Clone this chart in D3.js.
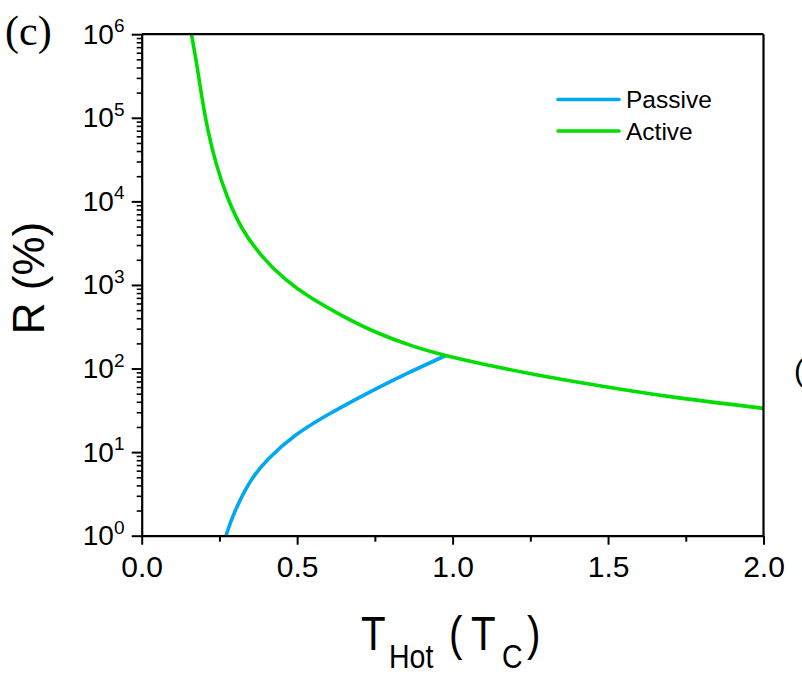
<!DOCTYPE html>
<html><head><meta charset="utf-8">
<script src="https://cdn.jsdelivr.net/npm/d3@7"></script>
<style>html,body{margin:0;padding:0;background:#fff;}svg{display:block;}</style>
</head><body>
<svg id="c" width="802" height="676"></svg>
<script>
// ---- data ----
const activeT = [0.160,0.177,0.193,0.212,0.238,0.273,0.322,0.386,0.461,0.536,0.648,0.756,0.874,0.981,1.088,1.25,1.474,1.689,2.0];
const activeR = [1e6,4.48e5,1.78e5,7.13e4,2.85e4,1.135e4,4540,2160,1145,722,417,264,182,141,115,86,62,46,33.4];
const passiveT = [0.271,0.295,0.348,0.402,0.488,0.595,0.724,0.853,0.978];
const passiveR = [1,1.85,4.64,8.13,15.85,27.8,50.5,87.7,143];
const xTicks = [0,0.5,1.0,1.5,2.0];
const xTickLabels = ["0.0","0.5","1.0","1.5","2.0"];
const xMinor = [0.25,0.75,1.25,1.75];
const yTicks = [1,10,100,1000,10000,100000,1000000];
const yTickExp = ["0","1","2","3","4","5","6"];
const seriesNames = ["Passive","Active"];
const seriesColors = ["#00A8F3","#00DD00"];

const svg = d3.select("#c");
const L = 141.7, R = 763.5, T = 34.2, B = 535.7;
const x = d3.scaleLinear().domain([0,2]).range([L,R]);
const y = d3.scaleLog().domain([1,1e6]).range([B,T]);
const FONT = "Liberation Sans, Arial, sans-serif";

svg.append("defs").append("clipPath").attr("id","clip")
  .append("rect").attr("x",L).attr("y",T-1).attr("width",R-L).attr("height",B-T+1);

// curves
const line = d3.line().x(d=>x(d[0])).y(d=>y(d[1])).curve(d3.curveBasis);
const passive = passiveT.map((t,i)=>[t,passiveR[i]]);
const active = activeT.map((t,i)=>[t,activeR[i]]);
const g = svg.append("g").attr("clip-path","url(#clip)");
g.append("path").datum(passive).attr("d",line).attr("fill","none")
  .attr("stroke",seriesColors[0]).attr("stroke-width",3.6).attr("stroke-linejoin","round");
g.append("path").datum(active).attr("d",line).attr("fill","none")
  .attr("stroke",seriesColors[1]).attr("stroke-width",3.6).attr("stroke-linejoin","round");

// frame (top + right)
svg.append("line").attr("x1",L).attr("x2",R).attr("y1",T).attr("y2",T).attr("stroke","#000").attr("stroke-width",2.2);
svg.append("line").attr("x1",R).attr("x2",R).attr("y1",T).attr("y2",B).attr("stroke","#000").attr("stroke-width",2.2);

// x axis
const xa = svg.append("g").attr("transform",`translate(0,${B})`)
  .call(d3.axisBottom(x).tickValues(xTicks).tickSize(9).tickSizeOuter(0)
    .tickFormat((d,i)=>xTickLabels[i]));
xa.select(".domain").attr("stroke-width",2.2);
xa.selectAll(".tick line").attr("stroke-width",2);
xa.selectAll(".tick text").attr("font-family",FONT)
  .attr("font-size",30).attr("fill","#000").attr("dy",0).attr("y",41.5);
const xm = svg.append("g").attr("transform",`translate(0,${B})`)
  .call(d3.axisBottom(x).tickValues(xMinor).tickSize(6).tickSizeOuter(0).tickFormat(""));
xm.select(".domain").remove();
xm.selectAll(".tick line").attr("stroke-width",2);

// y axis
const ya = svg.append("g").attr("transform",`translate(${L},0)`)
  .call(d3.axisLeft(y).tickValues(yTicks).tickSize(10).tickSizeOuter(0).tickFormat(""));
ya.select(".domain").attr("stroke-width",2.2);
ya.selectAll(".tick line").attr("stroke-width",2);
const yMinor = [];
for (let e=0;e<6;e++) for (let k=2;k<=9;k++) yMinor.push(k*Math.pow(10,e));
const ym = svg.append("g").attr("transform",`translate(${L},0)`)
  .call(d3.axisLeft(y).tickValues(yMinor).tickSize(5).tickSizeOuter(0).tickFormat(""));
ym.select(".domain").remove();
ym.selectAll(".tick line").attr("stroke-width",1.6);
// y tick labels with superscripts
yTicks.forEach((v,i)=>{
  const t = svg.append("text").attr("x",124.5).attr("y",y(v)+9.5)
    .attr("text-anchor","end").attr("font-family",FONT)
    .attr("font-size",28).attr("fill","#000");
  t.append("tspan").text("10");
  t.append("tspan").attr("font-size",19).attr("dy",-11.5).text(yTickExp[i]);
});

// x axis title: T_Hot (T_C)
const titleParts = [
  {s:"T", x:361, size:48, base:650},
  {s:"Hot", x:389, size:34, base:668},
  {s:"(", x:449, size:48, base:650},
  {s:"T", x:471, size:48, base:650},
  {s:"C", x:502, size:34, base:668},
  {s:")", x:527, size:48, base:650}
];
titleParts.forEach(p=>{
  svg.append("text").attr("transform",`translate(${p.x},${p.base}) scale(0.84,1)`)
    .attr("font-family",FONT).attr("font-size",p.size).attr("fill","#000").text(p.s);
});

svg.append("text").attr("transform","translate(44,278) rotate(-90)")
  .attr("text-anchor","middle").attr("font-family",FONT)
  .attr("font-size",44).attr("fill","#000").text("R (%)");

// panel label
svg.append("text").attr("x",5).attr("y",45).attr("font-family","Liberation Serif, DejaVu Serif, serif")
  .attr("font-size",42).attr("fill","#000").text("(c)");
// partial glyph of neighbouring panel at right edge
svg.append("text").attr("x",794).attr("y",381).attr("font-family",FONT)
  .attr("font-size",30).attr("fill","#000").text("(");

// legend
const legY = [99.5,131];
seriesNames.forEach((n,i)=>{
  svg.append("line").attr("x1",558).attr("x2",619).attr("y1",legY[i]).attr("y2",legY[i])
    .attr("stroke",seriesColors[i]).attr("stroke-width",3.6).attr("stroke-linecap","round");
  svg.append("text").attr("x",626).attr("y",legY[i]+8.5)
    .attr("font-family",FONT).attr("font-size",24.5).attr("fill","#000").text(n);
});
</script>
</body></html>
